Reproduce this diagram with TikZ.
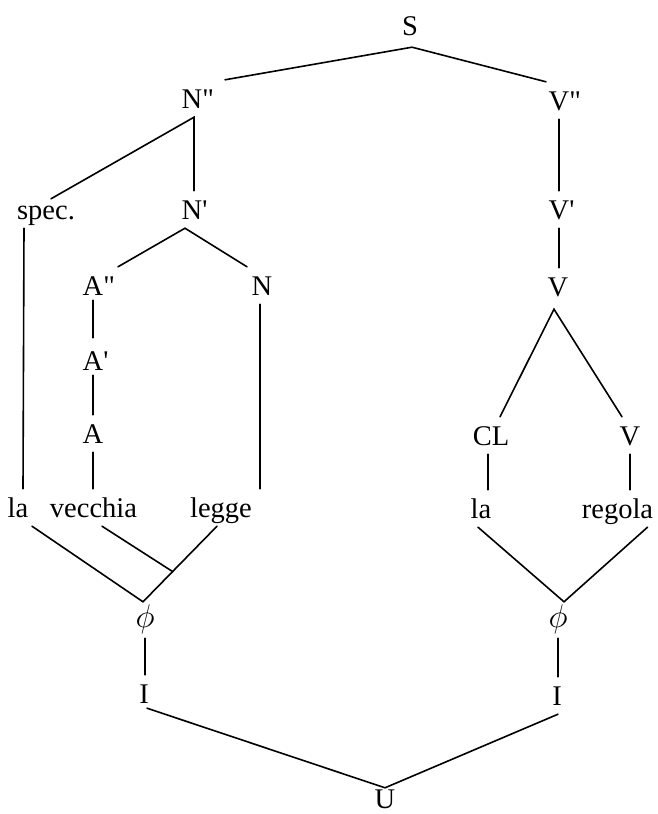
\documentclass[tikz,border=0pt]{standalone}
\usepackage{fix-cm}
\usepackage{graphicx}
\usepackage{fontspec}
\newfontfamily\lsf{Liberation Serif}
\usetikzlibrary{calc}
\begin{document}
\begin{tikzpicture}[x=1pt,y=-1pt,
  lbl/.style={anchor=base, inner xsep=2pt, inner ysep=9pt, text height=19pt, text depth=0pt,
              font=\lsf\fontsize{28.5}{34}\selectfont},
  edge/.style={line width=1.6pt, line cap=round}]
\useasboundingbox (0,0) rectangle (657,814);
% nodes
\node[lbl] (S) at (410,35) {S};
\node[lbl] (Npp) at (192,108) {N\rlap{"}};
\node[lbl] (Vpp) at (559,110) {V\rlap{"}};
\node[lbl] (spec) at (46,219) {spec.};
\node[lbl] (Np) at (192,219) {N\rlap{'}};
\node[lbl] (Vp) at (559,219) {V\rlap{'}};
\node[lbl] (App) at (93,295) {A\rlap{"}};
\node[lbl] (N) at (262,295) {N};
\node[lbl] (V) at (558,296) {V};
\node[lbl] (Ap) at (93,370) {A\rlap{'}};
\node[lbl] (A) at (93,443) {A};
\node[lbl] (CL) at (491,445) {CL};
\node[lbl] (Vr) at (630,445) {V};
\node[lbl] (la) at (18,517) {la};
\node[lbl] (vecchia) at (93.5,517) {vecchia};
\node[lbl] (legge) at (221,517) {legge};
\node[lbl] (lar) at (481,518) {la};
\node[lbl] (regola) at (617.5,518) {regola};
\node[lbl] (phiL) at (145,627) {\scalebox{1.15}{$\phi$}};
\node[lbl] (phiR) at (558,627) {\scalebox{1.15}{$\phi$}};
\node[lbl] (IL) at (144,703) {I};
\node[lbl] (IR) at (557,705) {I};
\node[lbl] (U) at (385,808) {U};
% junction points
\coordinate (jL) at ([xshift=-2pt,yshift=-3pt]phiL.north);
\coordinate (jR) at ([xshift=6pt,yshift=-3pt]phiR.north);
\coordinate (lgs) at ([xshift=-4pt]legge.south);
\coordinate (jV) at ($(lgs)!0.6!(jL)$);
% connectors
\draw[edge] ([xshift=33pt]Npp.north) -- ([xshift=2pt,yshift=-3pt]S.south) -- ([xshift=-13pt]Vpp.north);
\draw[edge] ([xshift=5pt,yshift=-8pt]spec.north) -- ([xshift=2pt]Npp.south) -- ([xshift=2pt]Np.north);
\draw[edge] (Vpp.south) -- (Vp.north);
\draw[edge] ([xshift=-22pt]spec.south) -- ([xshift=5pt]la.north);
\draw[edge] ([xshift=25pt]App.north) -- ([xshift=-7pt]Np.south) -- ([xshift=-15pt]N.north);
\draw[edge] ([yshift=4pt]App.south) -- ([yshift=4pt]Ap.north);
\draw[edge] ([yshift=4pt]Ap.south) -- (A.north);
\draw[edge] (A.south) -- ([xshift=-0.5pt]vecchia.north);
\draw[edge] ([xshift=-2pt]N.south) -- ([xshift=39pt]legge.north);
\draw[edge] (Vp.south) -- ([xshift=1pt]V.north);
\draw[edge] ([xshift=9pt]CL.north) -- ([xshift=-4pt,yshift=-4pt]V.south) -- ([xshift=-8pt]Vr.north);
\draw[edge] ([xshift=-3pt]CL.south) -- ([xshift=7pt]lar.north);
\draw[edge] (Vr.south) -- ([xshift=12.5pt]regola.north);
\draw[edge] ([xshift=14pt]la.south) -- (jL);
\draw[edge] ([xshift=8.5pt]vecchia.south) -- (jV);
\draw[edge] (lgs) -- (jL);
\draw[edge] ([xshift=-3pt]lar.south) -- (jR) -- ([xshift=30pt]regola.south);
\draw[edge] ([yshift=-2pt]phiL.south) -- (phiL.south |- IL.north);
\draw[edge] ([yshift=-2pt]phiR.south) -- (phiR.south |- IR.north);
\draw[edge] ([xshift=3pt,yshift=4pt]IL.south) -- ([yshift=-8pt]U.north) -- ([xshift=1pt]IR.south);
\end{tikzpicture}
\end{document}
